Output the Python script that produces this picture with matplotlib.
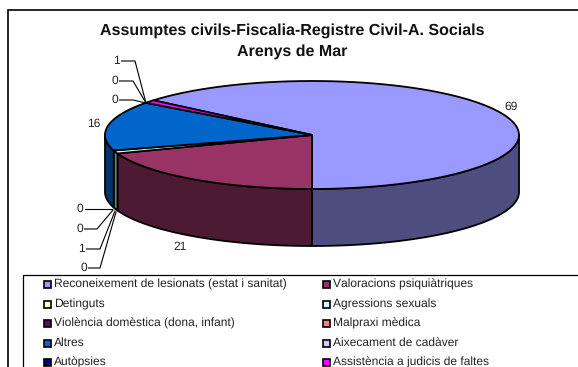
import numpy as np
import matplotlib
matplotlib.use("Agg")
import matplotlib.pyplot as plt
from matplotlib.patches import Rectangle

plt.rcParams['font.family'] = ['Liberation Sans', 'DejaVu Sans']
plt.rcParams['text.hinting'] = 'none'
plt.rcParams['text.hinting_factor'] = 1

categories = ["Reconeixement de lesionats (estat i sanitat)", "Valoracions psiquiàtriques",
              "Detinguts", "Agressions sexuals",
              "Violència domèstica (dona, infant)", "Malpraxi mèdica",
              "Altres", "Aixecament de cadàver",
              "Autòpsies", "Assistència a judicis de faltes"]
values = [69, 21, 0, 1, 0, 0, 16, 0, 0, 1]
top_colors = ["#9999FF", "#993366", "#FFFFCC", "#CCFFFF", "#660066",
              "#FF8080", "#0066CC", "#CCCCFF", "#000080", "#FF00FF"]
side_colors = ["#4D4D80", "#4D1A33", "#808066", "#668080", "#330033",
               "#804040", "#003366", "#666680", "#000040", "#800080"]

# pie geometry in pixels
cx, cy = 312, 135
rx, ry = 207, 54
depth = 57
start = 140

fig = plt.figure(figsize=(5.78, 3.67), dpi=100)
ax = fig.add_axes([0, 0, 1, 1])
ax.set_xlim(0, 578)
ax.set_ylim(367, 0)
ax.axis('off')

ax.add_patch(Rectangle((7.5, 10), 620, 400, fc='white', ec='black', lw=1.2))


def arc(a, b):
    t = np.radians(np.linspace(a, b, 80))
    return cx + rx * np.cos(t), cy - ry * np.sin(t)


total = sum(values)
angles = start - np.cumsum([0] + values) * 360 / total

# side faces, only the part of the rim that faces front
for i, v in enumerate(values):
    if v == 0:
        continue
    lo, hi = max(angles[i + 1], -180), min(angles[i], 0)
    if lo < hi:
        x, y = arc(hi, lo)
        ax.fill(np.r_[x, x[::-1]], np.r_[y, y[::-1] + depth],
                fc=side_colors[i], ec='black', lw=1.3, joinstyle='round')

# top faces
for i, v in enumerate(values):
    if v == 0:
        continue
    x, y = arc(angles[i], angles[i + 1])
    ax.fill(np.r_[cx, x], np.r_[cy, y], fc=top_colors[i], ec='black', lw=1.3, joinstyle='round')

ax.text(292, 31, "Assumptes civils-Fiscalia-Registre Civil-A. Socials",
        ha='center', va='center', fontsize=11.2, fontweight='bold', color='#111111')
ax.text(292, 52, "Arenys de Mar",
        ha='center', va='center', fontsize=11.2, fontweight='bold', color='#111111')

# data labels
big_labels = [(0, 511, 107), (1, 180, 247), (6, 94, 124)]
for i, lx, ly in big_labels:
    ax.text(lx, ly, str(values[i]), ha='center', va='center', fontsize=8.6, color='#222222')

# leader lines for the small slices
leaders = [(9, 120, 61, [(135, 61), (146, 103)]),
           (8, 118, 81, [(133, 81), (146, 103)]),
           (7, 118, 100, [(133, 100), (146, 103)]),
           (5, 83, 209, [(112, 209)]),
           (4, 83, 229, [(97, 229), (113, 210)]),
           (3, 85, 249, [(100, 249), (115, 211)]),
           (2, 87, 268, [(100, 268), (116, 212)])]
for i, lx, ly, pts in leaders:
    ax.text(lx, ly, str(values[i]), ha='right', va='center', fontsize=8.6, color='#222222')
    xs = [lx + 1.5] + [p[0] for p in pts]
    ys = [ly] + [p[1] for p in pts]
    ax.plot(xs, ys, color='black', lw=0.8)

# legend, runs off the bottom and right of the picture
ax.add_patch(Rectangle((23, 274.5), 620, 120, fc='white', ec='black', lw=0.9))
col_x = [44, 323]
row_y = [284, 304, 323, 343, 362]
for i, name in enumerate(categories):
    lx = col_x[i % 2]
    ly = row_y[i // 2]
    ax.add_patch(Rectangle((lx, ly - 3.5), 7, 7, fc=top_colors[i], ec='black', lw=1.2))
    ax.text(lx + 10, ly, name, ha='left', va='center', fontsize=8.6, color='#222222')

fig.savefig("out.png", dpi=100)
